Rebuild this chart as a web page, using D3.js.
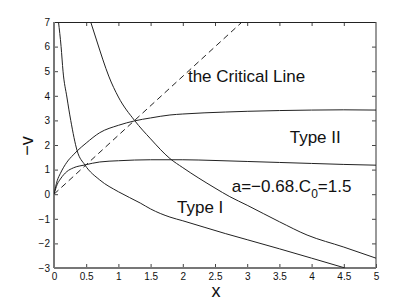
<!DOCTYPE html>
<html>
<head>
<meta charset="utf-8">
<script src="https://cdn.jsdelivr.net/npm/d3@7"></script>
<style>
    html, body { margin: 0; padding: 0; background: #fff; }
    svg { display: block; font-family: "Liberation Sans", Arial, Helvetica, sans-serif; }
</style>
</head>
<body>
<div id="chart"></div>
<script>
(function(window, document, undefined) {
    'use strict';

    // data
    var xTicks = [0, 0.5, 1, 1.5, 2, 2.5, 3, 3.5, 4, 4.5, 5],
        xTickLabels = ['0', '0.5', '1', '1.5', '2', '2.5', '3', '3.5', '4', '4.5', '5'],
        yTicks = [-3, -2, -1, 0, 1, 2, 3, 4, 5, 6, 7],
        yTickLabels = ['\u22123', '\u22122', '\u22121', '0', '1', '2', '3', '4', '5', '6', '7'];

    // steep branch from the top left, ends as "Type I"
    var typeIX = [0.07, 0.11, 0.14, 0.2, 0.26, 0.36, 0.48, 0.71, 1.0, 1.34, 1.5, 1.8, 2.0, 2.66, 3.0, 3.5, 4.0, 4.52],
        typeIV = [7, 6, 5, 3.95, 3.0, 1.76, 1.19, 0.58, 0.1, -0.36, -0.6, -0.93, -1.08, -1.6, -1.85, -2.22, -2.6, -3];

    // rising branch from the origin, "Type II"
    var typeIIX = [0, 0.05, 0.1, 0.2, 0.3, 0.36, 0.5, 0.71, 1.0, 1.25, 1.5, 1.8, 2.0, 2.66, 3.0, 3.5, 4.0, 4.5, 5],
        typeIIV = [0, 0.55, 0.85, 1.3, 1.6, 1.76, 2.08, 2.5, 2.8, 2.98, 3.1, 3.22, 3.26, 3.34, 3.37, 3.4, 3.42, 3.43, 3.42];

    // low flat branch from the origin
    var flatX = [0, 0.05, 0.1, 0.2, 0.3, 0.48, 0.71, 1.0, 1.5, 2.0, 2.5, 3.0, 3.5, 4.0, 4.5, 5],
        flatV = [0, 0.4, 0.62, 0.92, 1.07, 1.19, 1.31, 1.36, 1.4, 1.4, 1.37, 1.33, 1.29, 1.25, 1.21, 1.18];

    // falling branch through the critical point
    var fallX = [0.57, 0.71, 0.76, 0.85, 1.0, 1.25, 1.5, 1.8, 2.0, 2.5, 2.73, 3.0, 3.5, 3.93, 4.5, 5],
        fallV = [7, 5.86, 5.46, 4.8, 3.95, 3.0, 2.25, 1.45, 1.08, 0.25, -0.1, -0.45, -1.12, -1.66, -2.15, -2.6];

    // dashed critical line
    var criticalX = [0, 2.92],
        criticalV = [0, 7];

    // annotations: [x, v, text]
    var notes = [
        [2.08, 4.56, 'the Critical Line'],
        [3.66, 2.08, 'Type II'],
        [1.91, -0.76, 'Type I']
    ];


    /**
     * + layout
     * =====================================================================
     */

    var W = 415, H = 302,
        M = { top: 22, right: 39, bottom: 34, left: 54 },
        w = W - M.left - M.right,
        h = H - M.top - M.bottom,
        ink = '#222';

    var x = d3.scaleLinear().domain([0, 5]).range([0, w]),
        y = d3.scaleLinear().domain([-3, 7]).range([h, 0]);

    var svg = d3.select('#chart').append('svg')
                .attr('width', W)
                .attr('height', H);

    var g = svg.append('g')
                .attr('transform', 'translate(' + M.left + ',' + M.top + ')');

    g.append('clipPath').attr('id', 'plot-clip')
        .append('rect').attr('width', w).attr('height', h);

    /* = layout */


    /**
     * + axes
     * =====================================================================
     */

    function fmt(list, labels) {
        return function(d) { return labels[list.indexOf(d)]; };
    }

    var axB = g.append('g').attr('transform', 'translate(0,' + h + ')')
                .call(d3.axisBottom(x).tickValues(xTicks).tickFormat(fmt(xTicks, xTickLabels))
                    .tickSizeInner(-4).tickSizeOuter(0).tickPadding(5));
    var axL = g.append('g')
                .call(d3.axisLeft(y).tickValues(yTicks).tickFormat(fmt(yTicks, yTickLabels))
                    .tickSizeInner(-4).tickSizeOuter(0).tickPadding(4));
    var axT = g.append('g')
                .call(d3.axisTop(x).tickValues(xTicks).tickFormat('').tickSizeInner(-4).tickSizeOuter(0));
    var axR = g.append('g').attr('transform', 'translate(' + w + ',0)')
                .call(d3.axisRight(y).tickValues(yTicks).tickFormat('').tickSizeInner(-4).tickSizeOuter(0));

    [axB, axL, axT, axR].forEach(function(ax) {
        ax.select('.domain').remove();
        ax.selectAll('line').attr('stroke', '#444').attr('stroke-width', 1);
        ax.selectAll('text')
            .attr('fill', '#111')
            .style('font-size', '10px')
            .style('font-family', '"Liberation Sans", Arial, sans-serif');
    });
    axT.selectAll('line').filter(function(d) { return d === 0 || d === 5; }).remove();
    axR.selectAll('line').filter(function(d) { return d === -3 || d === 7; }).remove();

    // frame
    g.append('line').attr('x1', 0).attr('x2', w).attr('y1', 0.5).attr('y2', 0.5)
        .attr('stroke', ink).attr('stroke-width', 1);
    g.append('line').attr('x1', w).attr('x2', w).attr('y1', 0).attr('y2', h)
        .attr('stroke', '#555').attr('stroke-width', 1.2);
    g.append('line').attr('x1', 0).attr('x2', 0).attr('y1', 0).attr('y2', h)
        .attr('stroke', '#777').attr('stroke-width', 2);
    g.append('line').attr('x1', 0).attr('x2', w).attr('y1', h).attr('y2', h)
        .attr('stroke', '#777').attr('stroke-width', 2);

    // axis titles
    svg.append('text')
        .attr('x', M.left + x(2.5) + 1).attr('y', 297)
        .attr('text-anchor', 'middle')
        .style('font-size', '18px').attr('fill', '#111')
        .text('x');
    svg.append('text')
        .attr('transform', 'translate(33,146) rotate(-90)')
        .attr('text-anchor', 'middle')
        .style('font-size', '18px').attr('fill', '#111')
        .text('\u2212v');

    /* = axes */


    /**
     * + curves
     * =====================================================================
     */

    var line = d3.line()
                .x(function(d) { return x(d[0]); })
                .y(function(d) { return y(d[1]); })
                .curve(d3.curveMonotoneX);

    function pairs(xs, vs) {
        return xs.map(function(d, i) { return [d, vs[i]]; });
    }

    var plot = g.append('g').attr('clip-path', 'url(#plot-clip)');

    [[typeIX, typeIV], [typeIIX, typeIIV], [flatX, flatV], [fallX, fallV]].forEach(function(s) {
        plot.append('path')
            .datum(pairs(s[0], s[1]))
            .attr('d', line)
            .attr('fill', 'none')
            .attr('stroke', ink)
            .attr('stroke-width', 1);
    });

    plot.append('path')
        .datum(pairs(criticalX, criticalV))
        .attr('d', d3.line().x(function(d) { return x(d[0]); }).y(function(d) { return y(d[1]); }))
        .attr('fill', 'none')
        .attr('stroke', ink)
        .attr('stroke-width', 1)
        .attr('stroke-dasharray', '6,4');

    /* = curves */


    /**
     * + annotations
     * =====================================================================
     */

    notes.forEach(function(n) {
        g.append('text')
            .attr('x', x(n[0])).attr('y', y(n[1]))
            .style('font-size', '17px').attr('fill', '#111')
            .text(n[2]);
    });

    var param = g.append('text')
                .attr('x', x(2.76)).attr('y', y(0.09))
                .style('font-size', '17px').attr('fill', '#111');
    param.append('tspan').text('a=\u22120.68.C');
    param.append('tspan').attr('dy', 6).style('font-size', '12px').text('0');
    param.append('tspan').attr('dy', -6).text('=1.5');

    /* = annotations */

})(window, document);
</script>
</body>
</html>
